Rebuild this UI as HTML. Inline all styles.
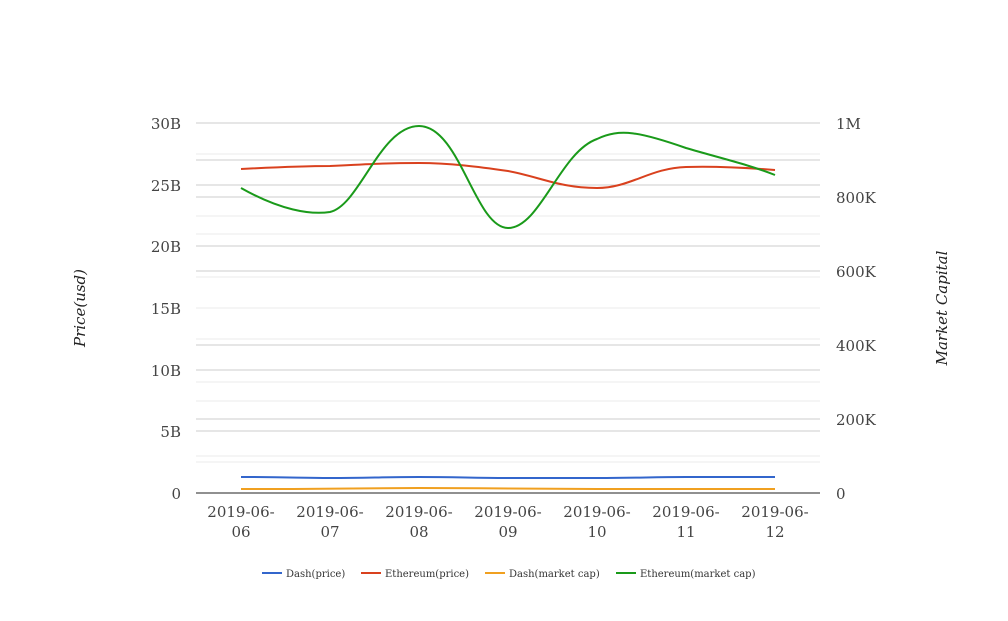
<!DOCTYPE html>
<html><head><style>body{margin:0;background:#fff}</style></head><body>
<svg width="1008" height="616" xmlns="http://www.w3.org/2000/svg" font-family="DejaVu Serif, serif">
<g stroke-width="1">
<g stroke="#ebebeb">
<line x1="196" x2="820" y1="154" y2="154"/><line x1="196" x2="820" y1="216" y2="216"/><line x1="196" x2="820" y1="234" y2="234"/><line x1="196" x2="820" y1="277" y2="277"/><line x1="196" x2="820" y1="308" y2="308"/><line x1="196" x2="820" y1="339" y2="339"/><line x1="196" x2="820" y1="382" y2="382"/><line x1="196" x2="820" y1="401" y2="401"/><line x1="196" x2="820" y1="456" y2="456"/><line x1="196" x2="820" y1="462" y2="462"/>
</g>
<g stroke="#cccccc">
<line x1="196" x2="820" y1="123" y2="123"/><line x1="196" x2="820" y1="160" y2="160"/><line x1="196" x2="820" y1="185" y2="185"/><line x1="196" x2="820" y1="197" y2="197"/><line x1="196" x2="820" y1="246" y2="246"/><line x1="196" x2="820" y1="271" y2="271"/><line x1="196" x2="820" y1="345" y2="345"/><line x1="196" x2="820" y1="370" y2="370"/><line x1="196" x2="820" y1="419" y2="419"/><line x1="196" x2="820" y1="431" y2="431"/>
</g>
<line x1="196" x2="820" y1="493" y2="493" stroke="#222"/>
</g>
<g font-size="15" fill="#444" text-anchor="end">
<text x="181" y="129">30B</text><text x="181" y="191">25B</text><text x="181" y="252">20B</text><text x="181" y="314">15B</text><text x="181" y="376">10B</text><text x="181" y="437">5B</text><text x="181" y="499">0</text>
</g>
<g font-size="15" fill="#444">
<text x="836" y="129">1M</text><text x="836" y="203">800K</text><text x="836" y="277">600K</text><text x="836" y="351">400K</text><text x="836" y="425">200K</text><text x="836" y="499">0</text>
</g>
<g font-size="15" fill="#444" text-anchor="middle">
<text x="241" y="517">2019-06-</text><text x="241" y="537">06</text>
<text x="330" y="517">2019-06-</text><text x="330" y="537">07</text>
<text x="419" y="517">2019-06-</text><text x="419" y="537">08</text>
<text x="508" y="517">2019-06-</text><text x="508" y="537">09</text>
<text x="597" y="517">2019-06-</text><text x="597" y="537">10</text>
<text x="686" y="517">2019-06-</text><text x="686" y="537">11</text>
<text x="775" y="517">2019-06-</text><text x="775" y="537">12</text>
</g>
<text transform="translate(85,308) rotate(-90)" font-size="15" font-style="italic" fill="#222" text-anchor="middle">Price(usd)</text>
<text transform="translate(947,308) rotate(-90)" font-size="15" font-style="italic" fill="#222" text-anchor="middle">Market Capital</text>
<g fill="none" stroke-width="2">
<path d="M241,477 C290,477 300,478 330,478 C370,478 380,477 419,477 C460,477 470,478 508,478 C550,478 560,478 597,478 C640,478 650,477 686,477 C720,477 740,477 775,477" stroke="#3366cc"/>
<path d="M241,489 C300,489 330,489 419,488 C480,488 520,489 597,489 C640,489 686,489 775,489" stroke="#f0a020"/>
<path d="M241,169 C280,167 310,166 330,166 C370,164 390,163 419,163 C450,163 480,167 508,171 C540,177 560,188 597,188 C630,188 650,168 686,167 C720,166 750,168 775,170" stroke="#d9411e"/>
<path d="M241,188 C280,210 310,215 330,212 C360,205 380,126 419,126 C460,126 475,228 508,228 C540,228 560,152 597,139 C620,128 640,132 686,148 C720,158 750,165 775,175" stroke="#1a9a1a"/>
</g>
<g font-size="10" fill="#333">
<line x1="262" x2="282" y1="573" y2="573" stroke="#3366cc" stroke-width="2"/><text x="286" y="577">Dash(price)</text>
<line x1="361" x2="381" y1="573" y2="573" stroke="#d9411e" stroke-width="2"/><text x="385" y="577">Ethereum(price)</text>
<line x1="485" x2="505" y1="573" y2="573" stroke="#f0a020" stroke-width="2"/><text x="509" y="577">Dash(market cap)</text>
<line x1="616" x2="636" y1="573" y2="573" stroke="#1a9a1a" stroke-width="2"/><text x="640" y="577">Ethereum(market cap)</text>
</g>
</svg>
</body></html>
